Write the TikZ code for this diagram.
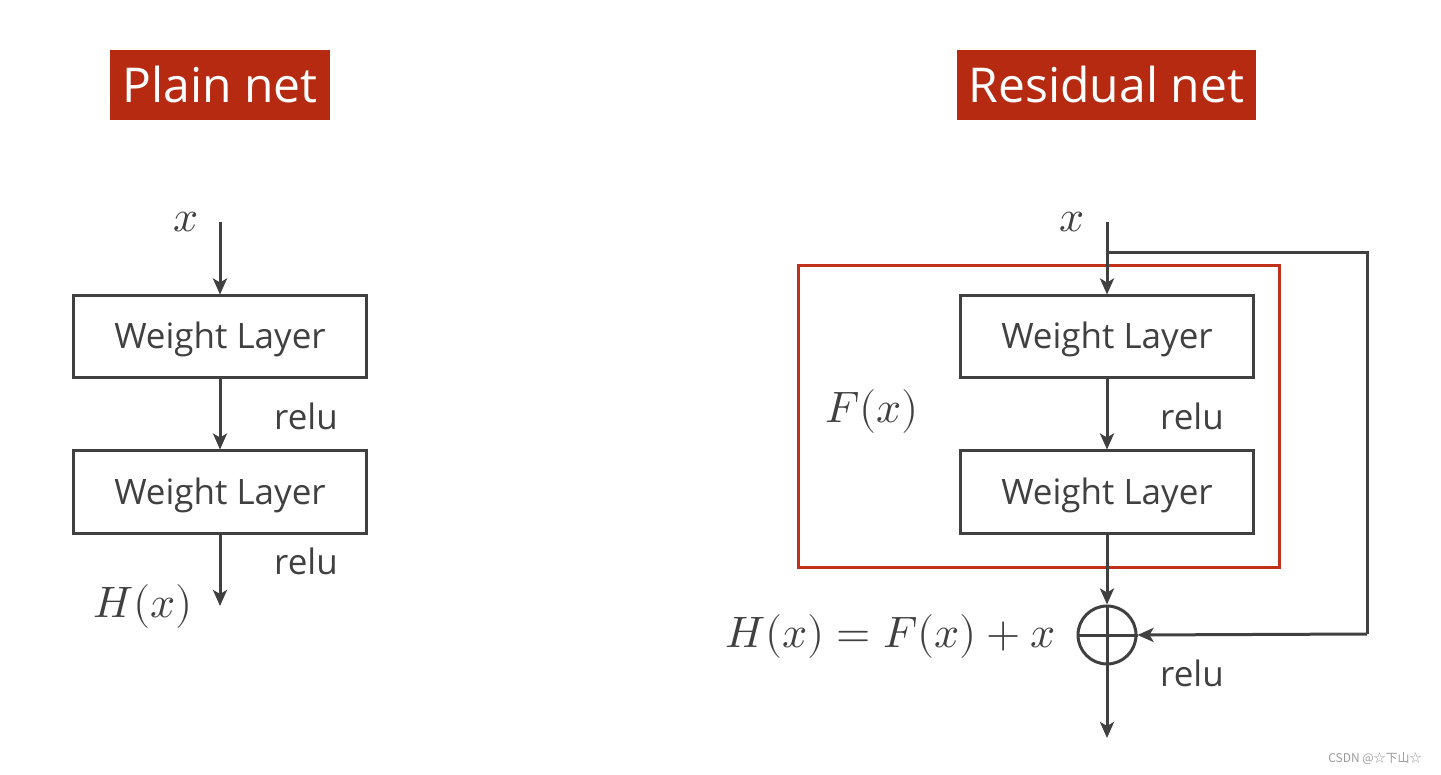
\documentclass[tikz,border=0pt]{standalone}
\usepackage{fontspec}
\usepackage{unicode-math}
\setmainfont{Open Sans}
\setmathfont{Latin Modern Math}
\newfontfamily\cjk{Noto Sans CJK SC}
\usetikzlibrary{arrows.meta}
\definecolor{lc}{HTML}{404040}
\definecolor{titred}{HTML}{B72A12}
\definecolor{boxred}{HTML}{C0301A}
\tikzset{
  wl/.style={draw=lc, line width=3pt, minimum width=293pt, minimum height=82pt, inner sep=0pt,
    text height=25pt, text depth=1pt, font=\fontsize{35}{40}\selectfont, text=lc},
  title/.style={fill=titred, text=white, inner sep=0pt, font=\fontsize{48}{54}\selectfont},
  conn/.style={draw=lc, line width=3pt, -{Stealth[length=16pt,width=14pt,inset=4pt]}},
  plainline/.style={draw=lc, line width=3pt},
  lbl/.style={text=lc, font=\fontsize{35}{40}\selectfont, inner sep=0pt},
  mlbl/.style={text=lc, font=\fontsize{44}{48}\selectfont, inner sep=0pt},
}
\begin{document}
\begin{tikzpicture}[x=1pt,y=-1pt]
\useasboundingbox (0,0) rectangle (1441,775);
% titles
\node[title, minimum width=220pt, minimum height=70pt] (t1) at (220,85) {Plain net};
\node[title, minimum width=299pt, minimum height=70pt] (t2) at (1106.5,85) {Residual net};
% plain net
\node[mlbl] (xl) at (186,222) {$x$};
\coordinate (xls) at (220,222);
\node[wl] (a1) at (220,337) {Weight Layer};
\node[wl] (a2) at (220,492) {Weight Layer};
\coordinate (hend) at (220,606);
\draw[conn] (xls) -- (a1.north);
\draw[conn] (a1.south) -- (a2.north);
\draw[conn] (a2.south) -- (hend);
\node[lbl] (r1) at (306,416) {relu};
\node[lbl] (r2) at (306,561) {relu};
\node[mlbl] (hx) at (143,606) {$H(x)$};
% residual net
\node[draw=boxred, line width=3pt, minimum width=481pt, minimum height=301pt, inner sep=0pt] (fb) at (1038.5,416.5) {};
\node[mlbl] (xr) at (1072,222) {$x$};
\coordinate (xrs) at (1107,222);
\coordinate (br) at (1107,253);
\coordinate (c1) at (1367,253);
\coordinate (c2) at (1367,634);
\node[wl] (b1) at (1107,337) {Weight Layer};
\node[wl] (b2) at (1107,492) {Weight Layer};
\node[draw=lc, line width=3pt, circle, minimum size=58pt, inner sep=0pt] (plus) at (1107,635) {};
\draw[plainline] (plus.north) -- (plus.south) (plus.west) -- (plus.east);
\coordinate (out) at (1107,738);
\draw[conn] (xrs) -- (b1.north);
\draw[plainline] (br) -- (c1) -- (c2);
\draw[conn] (c2) -- (plus.east);
\draw[conn] (b1.south) -- (b2.north);
\draw[conn] (b2.south) -- (plus.north);
\draw[conn] (plus.south) -- (out);
\node[lbl] (r3) at (1192,416) {relu};
\node[lbl] (r4) at (1192,673) {relu};
\node[mlbl] (fx) at (872,412) {$F(x)$};
\node[mlbl, anchor=east] (eq) at (1056,636) {$H(x)=F(x)+x$};
% watermark
\node[text=gray!80, font=\cjk\fontsize{12}{14}\selectfont, inner sep=0pt] (wm) at (1375,759) {CSDN @☆下山☆};
\end{tikzpicture}
\end{document}
